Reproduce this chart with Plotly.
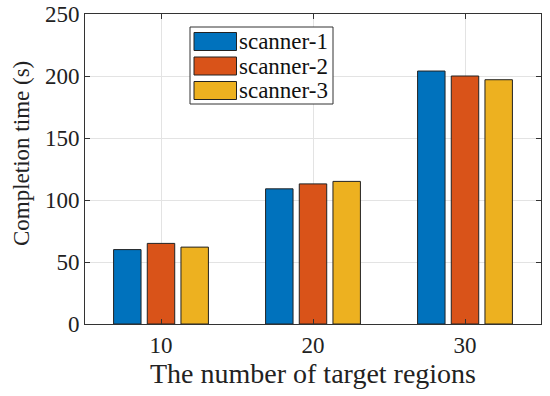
import plotly.graph_objects as go

categories = ["10", "20", "30"]
series_names = ["scanner-1", "scanner-2", "scanner-3"]
scanner1 = [60, 109, 204]
scanner2 = [65, 113, 200]
scanner3 = [62, 115, 197]
y_ticks = [0, 50, 100, 150, 200, 250]

colors = ["#0072BD", "#D95319", "#EDB120"]
values = [scanner1, scanner2, scanner3]
FONT = "Liberation Serif"

fig = go.Figure()
for name, vals, col in zip(series_names, values, colors):
    fig.add_trace(go.Bar(
        x=categories, y=vals, name=name,
        marker=dict(color=col, line=dict(color="#222222", width=1)),
        showlegend=False,
    ))

W, H = 550, 396
ml, mr, mt, mb = 85, 9, 14, 72
pw, ph = W - ml - mr, H - mt - mb

def px(x):
    return (x - ml) / pw

def py(y):
    return 1 - (y - mt) / ph

# Custom MATLAB-like legend (wide swatches)
lx0, lx1 = 190, 333
ly0, ly1 = 27, 104
shapes = [dict(type="rect", xref="paper", yref="paper",
               x0=px(lx0), x1=px(lx1), y0=py(ly1), y1=py(ly0),
               line=dict(color="#333333", width=1), fillcolor="white", layer="above")]
annotations = []
for i, (name, col) in enumerate(zip(series_names, colors)):
    yc = 41.5 + i * 24.5
    shapes.append(dict(type="rect", xref="paper", yref="paper",
                       x0=px(194), x1=px(236.5), y0=py(yc + 9), y1=py(yc - 9),
                       line=dict(color="#222222", width=1), fillcolor=col, layer="above"))
    annotations.append(dict(text=name, xref="paper", yref="paper",
                            x=px(237), y=py(yc), xanchor="left", yanchor="middle",
                            showarrow=False, font=dict(family=FONT, size=23, color="#111111")))

# Y-axis title (MATLAB places it slightly above the axis centre)
annotations.append(dict(text="Completion time (s)", xref="paper", yref="paper",
                        x=px(21), y=py(154), xanchor="center", yanchor="middle",
                        textangle=-90, showarrow=False,
                        font=dict(family=FONT, size=23, color="#222222")))

fig.update_layout(
    width=W, height=H,
    margin=dict(l=ml, r=mr, t=mt, b=mb),
    paper_bgcolor="white", plot_bgcolor="white",
    barmode="group", bargap=0.335, bargroupgap=0.185,
    font=dict(family=FONT, size=23, color="#222222"),
    shapes=shapes, annotations=annotations,
    xaxis=dict(
        type="category", range=[-0.5, 2.5], automargin=False,
        showline=True, linecolor="#333333", linewidth=1, mirror="ticks",
        ticks="inside", ticklen=5, tickcolor="#333333",
        showgrid=True, gridcolor="#e3e3e3", gridwidth=1,
        tickfont=dict(family=FONT, size=23, color="#222222"),
        title=dict(text="The number of target regions", font=dict(family=FONT, size=28, color="#222222"), standoff=3),
    ),
    yaxis=dict(
        range=[0, 250], tickvals=y_ticks, automargin=False,
        showline=True, linecolor="#333333", linewidth=1, mirror="ticks",
        ticks="inside", ticklen=5, tickcolor="#333333",
        showgrid=True, gridcolor="#e3e3e3", gridwidth=1, zeroline=False,
        tickfont=dict(family=FONT, size=23, color="#222222"),
    ),
)

fig.write_html("out.html", config={"displayModeBar": False},
               post_script="document.body.style.margin='0';document.body.style.overflow='hidden';")
